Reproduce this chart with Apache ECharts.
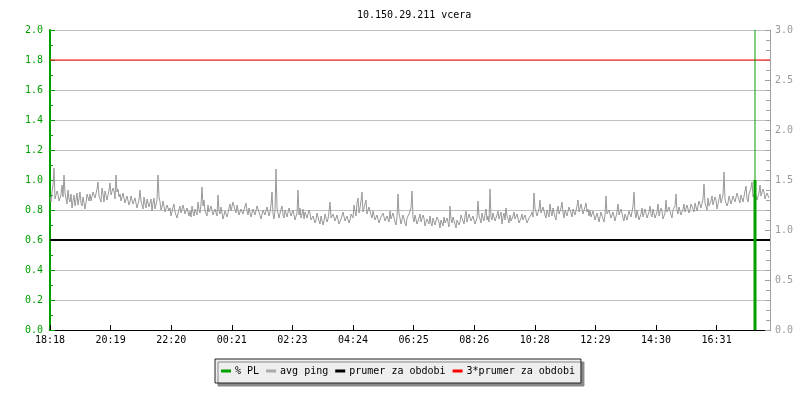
<!DOCTYPE html>
<html>
<head>
<meta charset="utf-8">
<script src="https://cdn.jsdelivr.net/npm/echarts@6/dist/echarts.min.js"></script>
<style>
  html, body { margin: 0; padding: 0; background: #fff; }
  #chart { width: 800px; height: 400px; }
</style>
</head>
<body>
<div id="chart"></div>
<script>
// casove popisky osy x (kazdych ~121 min od 18:18)
var xLabels = ['18:18', '20:19', '22:20', '00:21', '02:23', '04:24', '06:25', '08:26', '10:28', '12:29', '14:30', '16:31'];
var tickStep = 121.2; // minuty
var spanMinutes = 1440;

// avg ping (prava osa), jeden vzorek za 2 minuty
var pingStep = 2;
var pingValues = [
  1.33, 1.28, 1.38, 1.45, 1.62, 1.31, 1.30, 1.39, 1.36, 1.29, 1.27, 1.35, 1.45, 1.33, 1.55, 1.37, 1.32, 1.26, 1.40, 1.31,
  1.28, 1.36, 1.22, 1.29, 1.35, 1.24, 1.30, 1.37, 1.25, 1.31, 1.38, 1.27, 1.24, 1.33, 1.32, 1.21, 1.27, 1.36, 1.34, 1.29,
  1.36, 1.29, 1.30, 1.38, 1.40, 1.32, 1.33, 1.41, 1.48, 1.34, 1.35, 1.28, 1.42, 1.36, 1.28, 1.39, 1.37, 1.30, 1.31, 1.40,
  1.47, 1.35, 1.34, 1.42, 1.39, 1.31, 1.55, 1.38, 1.41, 1.33, 1.36, 1.29, 1.30, 1.37, 1.38, 1.27, 1.26, 1.34, 1.33, 1.25,
  1.28, 1.34, 1.35, 1.26, 1.24, 1.32, 1.31, 1.22, 1.20, 1.30, 1.40, 1.29, 1.27, 1.21, 1.33, 1.26, 1.22, 1.31, 1.29, 1.23,
  1.25, 1.31, 1.19, 1.27, 1.32, 1.21, 1.22, 1.30, 1.55, 1.33, 1.28, 1.20, 1.23, 1.29, 1.30, 1.18, 1.17, 1.25, 1.26, 1.19,
  1.22, 1.14, 1.16, 1.23, 1.26, 1.18, 1.20, 1.12, 1.13, 1.21, 1.24, 1.17, 1.18, 1.25, 1.27, 1.16, 1.15, 1.22, 1.21, 1.14,
  1.19, 1.13, 1.24, 1.18, 1.14, 1.21, 1.22, 1.15, 1.28, 1.20, 1.17, 1.26, 1.43, 1.24, 1.30, 1.19, 1.20, 1.14, 1.25, 1.18,
  1.18, 1.24, 1.26, 1.15, 1.13, 1.21, 1.22, 1.14, 1.35, 1.19, 1.16, 1.23, 1.23, 1.11, 1.12, 1.19, 1.20, 1.13, 1.17, 1.22,

  1.26, 1.19, 1.21, 1.28, 1.29, 1.20, 1.17, 1.25, 1.24, 1.15, 1.13, 1.21, 1.22, 1.16, 1.18, 1.24, 1.27, 1.19, 1.15, 1.22,
  1.20, 1.13, 1.14, 1.21, 1.23, 1.15, 1.17, 1.24, 1.26, 1.18, 1.19, 1.11, 1.12, 1.20, 1.22, 1.15, 1.16, 1.23, 1.21, 1.14,
  1.18, 1.25, 1.38, 1.16, 1.11, 1.19, 1.61, 1.22, 1.20, 1.12, 1.14, 1.21, 1.24, 1.15, 1.12, 1.20, 1.19, 1.13, 1.15, 1.22,
  1.21, 1.14, 1.13, 1.20, 1.18, 1.10, 1.09, 1.17, 1.40, 1.15, 1.22, 1.12, 1.16, 1.21, 1.11, 1.18, 1.19, 1.12, 1.14, 1.20,
  1.17, 1.10, 1.08, 1.14, 1.15, 1.07, 1.10, 1.17, 1.18, 1.09, 1.06, 1.14, 1.13, 1.05, 1.09, 1.16, 1.16, 1.08, 1.11, 1.18,
  1.28, 1.12, 1.10, 1.16, 1.17, 1.09, 1.07, 1.15, 1.14, 1.06, 1.04, 1.11, 1.12, 1.18, 1.16, 1.09, 1.08, 1.14, 1.13, 1.07,
  1.10, 1.16, 1.18, 1.12, 1.25, 1.19, 1.14, 1.27, 1.32, 1.17, 1.22, 1.29, 1.38, 1.18, 1.20, 1.26, 1.30, 1.16, 1.15, 1.23,
  1.24, 1.15, 1.12, 1.19, 1.18, 1.10, 1.08, 1.15, 1.14, 1.07, 1.06, 1.13, 1.11, 1.17, 1.16, 1.09, 1.07, 1.14, 1.13, 1.08,
  1.19, 1.11, 1.10, 1.17, 1.15, 1.08, 1.05, 1.13, 1.36, 1.16, 1.12, 1.06, 1.08, 1.15, 1.14, 1.07, 1.04, 1.12, 1.10, 1.16,

  1.14, 1.22, 1.39, 1.12, 1.08, 1.15, 1.13, 1.06, 1.05, 1.12, 1.16, 1.08, 1.09, 1.15, 1.12, 1.04, 1.03, 1.11, 1.10, 1.06,
  1.14, 1.07, 1.04, 1.12, 1.11, 1.05, 1.06, 1.13, 1.15, 1.08, 1.02, 1.10, 1.09, 1.04, 1.13, 1.07, 1.05, 1.12, 1.11, 1.03,
  1.24, 1.11, 1.07, 1.13, 1.14, 1.06, 1.02, 1.10, 1.12, 1.05, 1.08, 1.15, 1.16, 1.09, 1.06, 1.14, 1.19, 1.08, 1.10, 1.16,
  1.15, 1.09, 1.08, 1.14, 1.13, 1.06, 1.05, 1.12, 1.29, 1.14, 1.11, 1.07, 1.17, 1.12, 1.09, 1.16, 1.21, 1.10, 1.14, 1.08,
  1.41, 1.13, 1.10, 1.17, 1.16, 1.09, 1.08, 1.15, 1.19, 1.11, 1.12, 1.18, 1.06, 1.13, 1.17, 1.10, 1.22, 1.14, 1.11, 1.07,
  1.15, 1.09, 1.07, 1.14, 1.18, 1.11, 1.10, 1.16, 1.14, 1.07, 1.05, 1.12, 1.16, 1.10, 1.09, 1.15, 1.13, 1.07, 1.06, 1.12,
  1.12, 1.15, 1.18, 1.13, 1.37, 1.22, 1.20, 1.14, 1.14, 1.21, 1.30, 1.17, 1.16, 1.23, 1.24, 1.15, 1.12, 1.20, 1.19, 1.13,
  1.26, 1.18, 1.14, 1.22, 1.21, 1.13, 1.10, 1.19, 1.24, 1.16, 1.15, 1.22, 1.28, 1.17, 1.12, 1.20, 1.20, 1.14, 1.16, 1.23,
  1.25, 1.17, 1.13, 1.21, 1.22, 1.15, 1.17, 1.24, 1.30, 1.18, 1.19, 1.26, 1.24, 1.16, 1.15, 1.23, 1.27, 1.18, 1.21, 1.14,

  1.20, 1.13, 1.12, 1.19, 1.18, 1.10, 1.09, 1.17, 1.16, 1.08, 1.10, 1.18, 1.19, 1.11, 1.08, 1.15, 1.34, 1.16, 1.14, 1.20,
  1.19, 1.12, 1.11, 1.18, 1.17, 1.09, 1.10, 1.18, 1.26, 1.15, 1.13, 1.21, 1.20, 1.12, 1.09, 1.16, 1.16, 1.10, 1.12, 1.19,
  1.21, 1.13, 1.14, 1.24, 1.38, 1.17, 1.12, 1.20, 1.18, 1.10, 1.08, 1.16, 1.22, 1.13, 1.15, 1.21, 1.19, 1.12, 1.11, 1.18,
  1.24, 1.16, 1.13, 1.21, 1.20, 1.12, 1.10, 1.18, 1.26, 1.14, 1.15, 1.22, 1.19, 1.11, 1.09, 1.17, 1.30, 1.18, 1.16, 1.23,
  1.21, 1.15, 1.12, 1.20, 1.18, 1.24, 1.36, 1.19, 1.16, 1.23, 1.22, 1.15, 1.14, 1.21, 1.26, 1.18, 1.18, 1.25, 1.24, 1.17,
  1.20, 1.26, 1.28, 1.21, 1.18, 1.27, 1.25, 1.19, 1.21, 1.29, 1.30, 1.22, 1.23, 1.31, 1.46, 1.27, 1.25, 1.20, 1.32, 1.24,
  1.22, 1.29, 1.34, 1.25, 1.26, 1.33, 1.30, 1.21, 1.22, 1.31, 1.36, 1.27, 1.28, 1.35, 1.58, 1.30, 1.31, 1.24, 1.27, 1.34,
  1.33, 1.26, 1.25, 1.34, 1.36, 1.28, 1.29, 1.37, 1.38, 1.30, 1.27, 1.35, 1.34, 1.28, 1.30, 1.39, 1.44, 1.31, 1.28, 1.36,
  1.36, 1.42, 1.48, 1.33, 1.31, 1.38, 1.40, 1.30, 1.29, 1.37, 1.45, 1.34, 1.33, 1.41, 1.38, 1.31, 1.30, 1.37, 1.36, 1.32
];

// % PL (leva osa) - jedna spicka
var plTime = 1410;
var plThick = [0, 1.0];
var plThin = [1.0, 2.0];

// prumer a 3*prumer (prava osa)
var prumer = 0.9;
var prumer3 = 2.7;

var FONT = 'DejaVu Sans Mono';
var GREEN = '#00a000';

var pingData = pingValues.map(function (v, i) { return [i * pingStep, v]; });

var chart = echarts.init(document.getElementById('chart'), null, { renderer: 'canvas' });

chart.setOption({
  animation: false,
  backgroundColor: '#fff',
  title: {
    text: '10.150.29.211 vcera',
    left: 352,
    top: 5,
    textStyle: { fontFamily: FONT, fontSize: 10, fontWeight: 'normal', color: '#000' }
  },
  legend: {
    left: 215,
    top: 359,
    padding: [7, 6],
    itemWidth: 10,
    itemHeight: 3,
    itemGap: 7,
    icon: 'rect',
    backgroundColor: '#eeeeee',
    borderColor: '#222',
    borderWidth: 1,
    borderRadius: 0,
    shadowColor: '#888',
    shadowBlur: 0,
    shadowOffsetX: 3,
    shadowOffsetY: 3,
    textStyle: { fontFamily: FONT, fontSize: 10, color: '#000', padding: [0, 0, 0, -1] },
    data: ['% PL', 'avg ping', 'prumer za obdobi', '3*prumer za obdobi']
  },
  grid: { left: 50, right: 30, top: 30, bottom: 70, containLabel: false },
  xAxis: {
    type: 'value',
    min: 0,
    max: spanMinutes,
    interval: tickStep,
    axisLine: { lineStyle: { color: '#000', width: 1 } },
    axisTick: { inside: true, length: 5, lineStyle: { color: '#000' } },
    axisLabel: {
      fontFamily: FONT, fontSize: 10, color: '#000', margin: 5,
      showMaxLabel: false,
      formatter: function (v) { return xLabels[Math.round(v / tickStep)] || ''; }
    },
    splitLine: { show: false }
  },
  yAxis: [
    {
      type: 'value',
      min: 0,
      max: 2,
      interval: 0.2,
      position: 'left',
      axisLine: { show: true, lineStyle: { color: GREEN, width: 2 } },
      axisTick: { show: true, inside: true, length: 5, lineStyle: { color: GREEN } },
      minorTick: { show: true, splitNumber: 2, length: 3, lineStyle: { color: GREEN } },
      axisLabel: {
        fontFamily: FONT, fontSize: 10, color: GREEN, margin: 7,
        formatter: function (v) { return v.toFixed(1); }
      },
      splitLine: { show: true, lineStyle: { color: '#c0c0c0', width: 1 } }
    },
    {
      type: 'value',
      min: 0,
      max: 3,
      interval: 0.5,
      position: 'right',
      axisLine: { show: true, lineStyle: { color: '#a0a0a0', width: 1 } },
      axisTick: { show: true, inside: true, length: 5, lineStyle: { color: '#a0a0a0' } },
      minorTick: { show: true, splitNumber: 5, length: 4, lineStyle: { color: '#a0a0a0' } },
      axisLabel: {
        fontFamily: FONT, fontSize: 10, color: '#999', margin: 5,
        formatter: function (v) { return v.toFixed(1); }
      },
      splitLine: { show: false }
    }
  ],
  series: [
    {
      name: '% PL',
      type: 'line',
      yAxisIndex: 0,
      symbol: 'none',
      z: 5,
      lineStyle: { color: GREEN, width: 3 },
      itemStyle: { color: GREEN },
      data: plThick.map(function (v) { return [plTime, v]; })
    },
    {
      name: '% PL',
      type: 'line',
      yAxisIndex: 0,
      symbol: 'none',
      z: 5,
      lineStyle: { color: GREEN, width: 1 },
      itemStyle: { color: GREEN },
      data: plThin.map(function (v) { return [plTime, v]; })
    },
    {
      name: 'avg ping',
      type: 'line',
      yAxisIndex: 1,
      symbol: 'none',
      lineStyle: { color: '#999999', width: 1 },
      itemStyle: { color: '#aaaaaa' },
      data: pingData
    },
    {
      name: 'prumer za obdobi',
      type: 'line',
      yAxisIndex: 1,
      symbol: 'none',
      lineStyle: { color: '#000', width: 2 },
      itemStyle: { color: '#000' },
      data: [[0, prumer], [spanMinutes, prumer]]
    },
    {
      name: '3*prumer za obdobi',
      type: 'line',
      yAxisIndex: 1,
      symbol: 'none',
      lineStyle: { color: '#ff0000', width: 1 },
      itemStyle: { color: '#ff0000' },
      data: [[0, prumer3], [spanMinutes, prumer3]]
    }
  ]
});
</script>
</body>
</html>
